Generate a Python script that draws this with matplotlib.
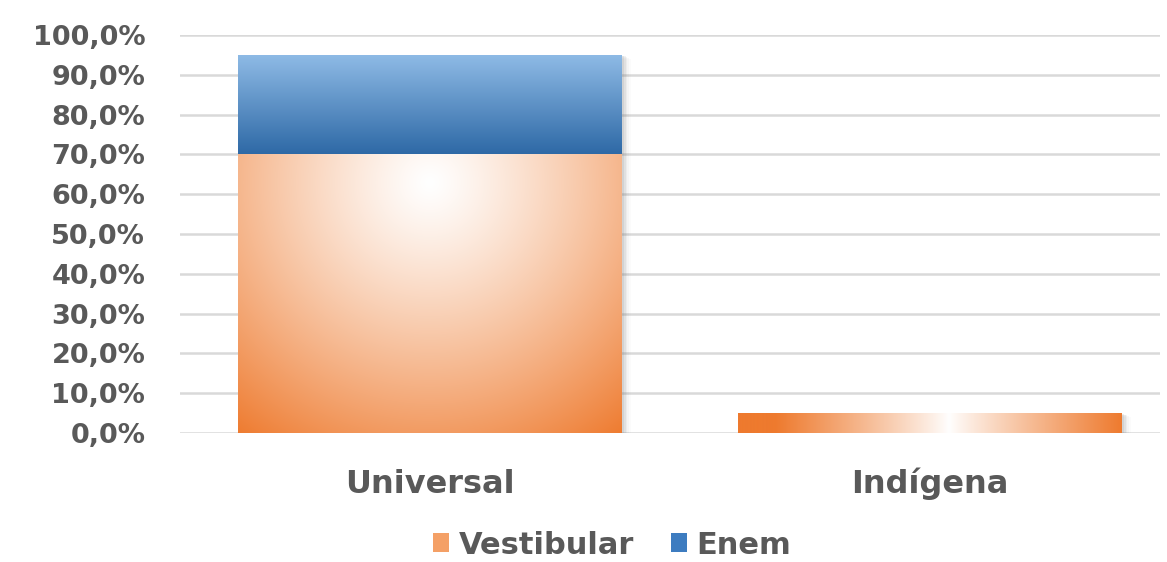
import numpy as np
import matplotlib
matplotlib.use("Agg")
import matplotlib.pyplot as plt
from matplotlib.patches import Patch, Rectangle
from matplotlib.colors import to_rgb

categories = ["Universal", "Indígena"]
vestibular = [70.0, 5.0]
enem = [25.0, 0.0]
yticks = [0, 10, 20, 30, 40, 50, 60, 70, 80, 90, 100]
ytick_labels = [f"{v:.1f}%".replace(".", ",") for v in yticks]

W, H = 1167, 562
fig = plt.figure(figsize=(W / 100, H / 100), dpi=100)
ax = fig.add_axes([180 / W, 1 - 433 / H, (1160 - 180) / W, (433 - 35) / H])

ORANGE = np.array(to_rgb("#ee7a2e"))
BLUE_TOP = np.array(to_rgb("#8fbbe6"))
BLUE_BOT = np.array(to_rgb("#2e69a6"))
WHITE = np.array([1.0, 1.0, 1.0])
GRID = "#d9d9d9"
TXT = "#595959"

width = 0.768
x = np.arange(len(categories))
ax.set_xlim(-0.5, 1.46)
ax.set_ylim(0, 100)

for y in yticks:
    ax.axhline(y, color=GRID, lw=1.8, zorder=0)


def shadow(x0, y0, w, h):
    for k, a in zip(range(1, 6), [0.10, 0.08, 0.06, 0.04, 0.02]):
        dx = 0.0035 * k
        ax.add_patch(Rectangle((x0 + dx, y0), w, h - 0.2 * k, facecolor="#606060",
                               edgecolor="none", alpha=a, zorder=1))


def grad_bar(x0, y0, w, h, img):
    rect = Rectangle((x0, y0), w, h, facecolor="none", edgecolor="none", zorder=2)
    ax.add_patch(rect)
    im = ax.imshow(img, extent=[x0, x0 + w, y0, y0 + h], origin="lower",
                   aspect="auto", zorder=2, interpolation="bilinear")
    im.set_clip_path(rect)


bars_v = ax.bar(x, vestibular, width=width, color="none", zorder=2)
bars_e = ax.bar(x, enem, width=width, bottom=vestibular, color="none", zorder=2)

# Universal vestibular: radial gradient
b = bars_v[0]
x0, y0, w, h = b.get_x(), b.get_y(), b.get_width(), b.get_height()
tot = vestibular[0] + enem[0]
shadow(x0, y0, w, tot)
n = 200
u, v = np.meshgrid(np.linspace(0, 1, n), np.linspace(0, 1, n))
dx = (u - 0.5) * 384
dy = (v - 0.9) * 279
t = np.clip(np.sqrt(dx ** 2 + dy ** 2) / 320, 0, 1) ** 1.2
img = WHITE[None, None, :] * (1 - t[..., None]) + ORANGE[None, None, :] * t[..., None]
grad_bar(x0, y0, w, h, img)

# Universal enem: vertical gradient
b = bars_e[0]
x0, y0, w, h = b.get_x(), b.get_y(), b.get_width(), b.get_height()
tv = np.linspace(0, 1, n)[:, None, None] * np.ones((1, n, 1))
img = BLUE_BOT * (1 - tv) + BLUE_TOP * tv
grad_bar(x0, y0, w, h, img)

# Indigena vestibular: horizontal gradient
b = bars_v[1]
x0, y0, w, h = b.get_x(), b.get_y(), b.get_width(), b.get_height()
shadow(x0, y0, w, h)
tu = np.clip(np.abs(np.linspace(0, 1, n) - 0.55) * 2.2, 0, 1) ** 0.9
tu = tu[None, :, None] * np.ones((n, 1, 1))
img = WHITE * (1 - tu) + ORANGE * tu
grad_bar(x0, y0, w, h, img)

for s in ax.spines.values():
    s.set_visible(False)
ax.set_yticks(yticks)
ax.set_yticklabels(ytick_labels, fontsize=19.5, fontweight="bold", color=TXT)
ax.set_xticks(x)
ax.set_xticklabels(categories, fontsize=23, fontweight="bold", color=TXT,
                   va="baseline")
ax.tick_params(axis="y", length=0, pad=25)
ax.tick_params(axis="x", length=0, pad=43)

handles = [Patch(facecolor="#f4a066", edgecolor="none", label="Vestibular"),
           Patch(facecolor="#3d7cc0", edgecolor="none", label="Enem")]
leg = fig.legend(handles=handles, loc="center", bbox_to_anchor=(612 / W, 1 - 545 / H),
                 ncol=2, frameon=False, prop={"size": 22, "weight": "bold"},
                 handlelength=0.55, handleheight=0.55, handletextpad=0.3,
                 columnspacing=1.2, borderpad=0.2)
for tx in leg.get_texts():
    tx.set_color(TXT)

fig.savefig("out.png", dpi=100)
